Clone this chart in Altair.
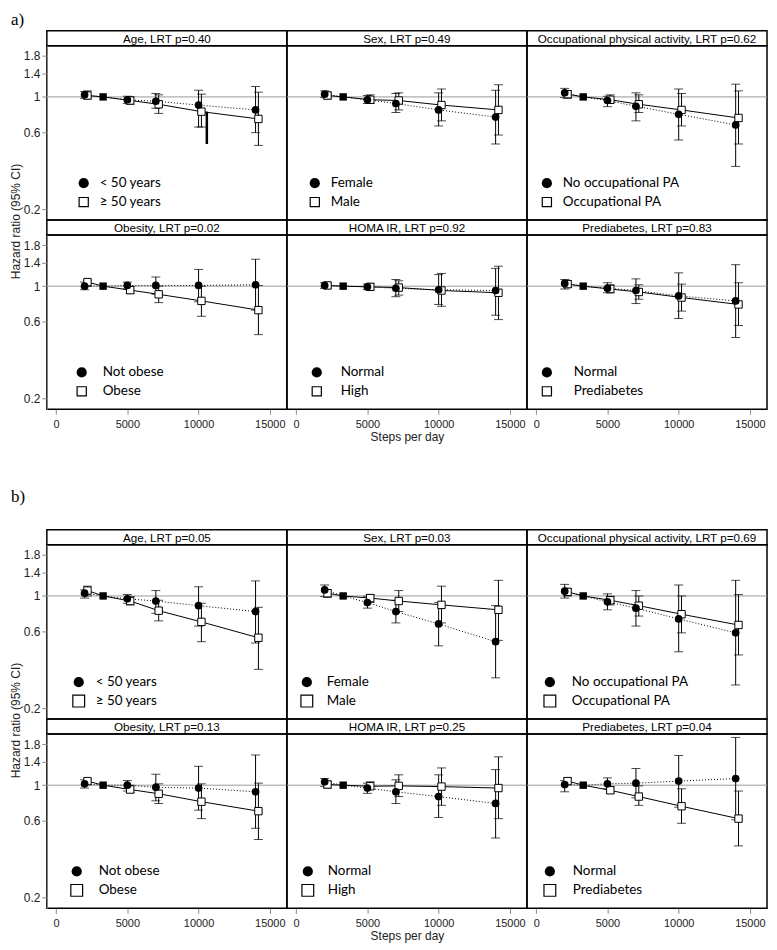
import altair as alt
import pandas as pd

# ---------------- data ----------------
STEPS_G1 = [2000, 5000, 7000, 10000, 14000]   # filled circles (dotted line)
STEPS_G2 = [2200, 5200, 7200, 10200, 14200]   # open squares (solid line)
REF_STEPS = 3300
REF_HR = 1.0
X_TICKS = [0, 5000, 10000, 15000]
Y_TICKS = [0.2, 0.6, 1, 1.4, 1.8]

TITLES_A = ["Age, LRT p=0.40", "Sex, LRT p=0.49", "Occupational physical activity, LRT p=0.62",
            "Obesity, LRT p=0.02", "HOMA IR, LRT p=0.92", "Prediabetes, LRT p=0.83"]
TITLES_B = ["Age, LRT p=0.05", "Sex, LRT p=0.03", "Occupational physical activity, LRT p=0.69",
            "Obesity, LRT p=0.13", "HOMA IR, LRT p=0.25", "Prediabetes, LRT p=0.04"]
LABELS_G1 = ["< 50 years", "Female", "No occupational PA", "Not obese", "Normal", "Normal"]
LABELS_G2 = ["≥ 50 years", "Male", "Occupational PA", "Obese", "High", "Prediabetes"]

# ---- section a ----
A1_HR1 = [1.03, 0.96, 0.94, 0.89, 0.83]
A1_LO1 = [0.98, 0.91, 0.85, 0.65, 0.60]
A1_HI1 = [1.08, 1.01, 1.05, 1.10, 1.16]
A1_HR2 = [1.02, 0.95, 0.90, 0.81, 0.73]
A1_LO2 = [0.97, 0.90, 0.79, 0.65, 0.50]
A1_HI2 = [1.09, 1.00, 1.03, 1.04, 1.07]
A1_EXTRA_STEPS = [10580]
A1_EXTRA_LO = [0.51]
A1_EXTRA_HI = [0.81]

A2_HR1 = [1.04, 0.96, 0.91, 0.83, 0.75]
A2_LO1 = [0.99, 0.91, 0.80, 0.66, 0.51]
A2_HI1 = [1.09, 1.02, 1.05, 1.06, 1.10]
A2_HR2 = [1.02, 0.96, 0.95, 0.89, 0.83]
A2_LO2 = [0.97, 0.91, 0.83, 0.71, 0.58]
A2_HI2 = [1.07, 1.03, 1.06, 1.12, 1.19]

A3_HR1 = [1.06, 0.95, 0.875, 0.78, 0.67]
A3_LO1 = [0.99, 0.87, 0.71, 0.54, 0.37]
A3_HI1 = [1.13, 1.01, 1.06, 1.12, 1.20]
A3_HR2 = [1.04, 0.96, 0.90, 0.83, 0.74]
A3_LO2 = [0.98, 0.92, 0.80, 0.66, 0.51]
A3_HI2 = [1.09, 1.03, 1.03, 1.05, 1.09]

A4_HR1 = [1.00, 1.01, 1.01, 1.01, 1.02]
A4_LO1 = [0.95, 0.96, 0.89, 0.80, 0.71]
A4_HI1 = [1.06, 1.06, 1.14, 1.27, 1.47]
A4_HR2 = [1.06, 0.945, 0.89, 0.81, 0.71]
A4_LO2 = [1.00, 0.90, 0.79, 0.65, 0.50]
A4_HI2 = [1.09, 0.995, 1.00, 1.00, 1.01]

A5_HR1 = [1.01, 0.99, 0.97, 0.95, 0.94]
A5_LO1 = [0.97, 0.95, 0.86, 0.77, 0.66]
A5_HI1 = [1.05, 1.03, 1.10, 1.18, 1.29]
A5_HR2 = [1.01, 0.99, 0.98, 0.94, 0.91]
A5_LO2 = [0.97, 0.95, 0.88, 0.75, 0.62]
A5_HI2 = [1.05, 1.04, 1.08, 1.20, 1.33]

A6_HR1 = [1.04, 0.97, 0.94, 0.87, 0.81]
A6_LO1 = [0.96, 0.91, 0.78, 0.63, 0.48]
A6_HI1 = [1.10, 1.05, 1.11, 1.21, 1.36]
A6_HR2 = [1.03, 0.96, 0.92, 0.85, 0.77]
A6_LO2 = [0.98, 0.91, 0.83, 0.70, 0.57]
A6_HI2 = [1.08, 1.02, 1.02, 1.03, 1.05]

# ---- section b ----
B1_HR1 = [1.04, 0.96, 0.93, 0.87, 0.80]
B1_LO1 = [0.97, 0.90, 0.78, 0.65, 0.51]
B1_HI1 = [1.09, 1.02, 1.08, 1.14, 1.24]
B1_HR2 = [1.08, 0.93, 0.81, 0.69, 0.55]
B1_LO2 = [1.00, 0.88, 0.70, 0.52, 0.35]
B1_HI2 = [1.15, 0.99, 0.94, 0.90, 0.85]

B2_HR1 = [1.09, 0.91, 0.80, 0.67, 0.52]
B2_LO1 = [0.99, 0.84, 0.68, 0.49, 0.31]
B2_HI1 = [1.17, 0.995, 0.94, 0.91, 0.87]
B2_HR2 = [1.04, 0.97, 0.93, 0.88, 0.82]
B2_LO2 = [0.98, 0.91, 0.80, 0.68, 0.53]
B2_HI2 = [1.09, 1.02, 1.08, 1.15, 1.25]

B3_HR1 = [1.07, 0.92, 0.84, 0.72, 0.59]
B3_LO1 = [0.97, 0.82, 0.65, 0.45, 0.28]
B3_HI1 = [1.18, 1.03, 1.08, 1.17, 1.25]
B3_HR2 = [1.06, 0.94, 0.87, 0.77, 0.66]
B3_LO2 = [1.00, 0.88, 0.75, 0.59, 0.43]
B3_HI2 = [1.11, 0.995, 1.00, 1.00, 1.02]

B4_HR1 = [1.02, 1.00, 0.97, 0.96, 0.91]
B4_LO1 = [0.96, 0.92, 0.80, 0.70, 0.54]
B4_HI1 = [1.08, 1.07, 1.17, 1.31, 1.54]
B4_HR2 = [1.06, 0.94, 0.885, 0.79, 0.69]
B4_LO2 = [1.01, 0.90, 0.77, 0.62, 0.46]
B4_HI2 = [1.09, 1.00, 1.02, 1.02, 1.03]

B5_HR1 = [1.05, 0.96, 0.91, 0.85, 0.77]
B5_LO1 = [0.98, 0.89, 0.77, 0.63, 0.47]
B5_HI1 = [1.10, 1.03, 1.08, 1.16, 1.25]
B5_HR2 = [1.01, 0.985, 0.99, 0.98, 0.96]
B5_LO2 = [0.96, 0.94, 0.85, 0.75, 0.62]
B5_HI2 = [1.06, 1.05, 1.16, 1.28, 1.50]

B6_HR1 = [1.01, 1.02, 1.03, 1.06, 1.10]
B6_LO1 = [0.91, 0.95, 0.835, 0.73, 0.61]
B6_HI1 = [1.07, 1.11, 1.27, 1.53, 1.98]
B6_HR2 = [1.06, 0.93, 0.85, 0.74, 0.62]
B6_LO2 = [1.01, 0.89, 0.75, 0.58, 0.42]
B6_HI2 = [1.11, 0.98, 0.99, 0.95, 0.92]

PANELS_A = [
    (A1_HR1, A1_LO1, A1_HI1, A1_HR2, A1_LO2, A1_HI2),
    (A2_HR1, A2_LO1, A2_HI1, A2_HR2, A2_LO2, A2_HI2),
    (A3_HR1, A3_LO1, A3_HI1, A3_HR2, A3_LO2, A3_HI2),
    (A4_HR1, A4_LO1, A4_HI1, A4_HR2, A4_LO2, A4_HI2),
    (A5_HR1, A5_LO1, A5_HI1, A5_HR2, A5_LO2, A5_HI2),
    (A6_HR1, A6_LO1, A6_HI1, A6_HR2, A6_LO2, A6_HI2),
]
PANELS_B = [
    (B1_HR1, B1_LO1, B1_HI1, B1_HR2, B1_LO2, B1_HI2),
    (B2_HR1, B2_LO1, B2_HI1, B2_HR2, B2_LO2, B2_HI2),
    (B3_HR1, B3_LO1, B3_HI1, B3_HR2, B3_LO2, B3_HI2),
    (B4_HR1, B4_LO1, B4_HI1, B4_HR2, B4_LO2, B4_HI2),
    (B5_HR1, B5_LO1, B5_HI1, B5_HR2, B5_LO2, B5_HI2),
    (B6_HR1, B6_LO1, B6_HI1, B6_HR2, B6_LO2, B6_HI2),
]

# ---------------- layout / style ----------------
PW, PH, SH = 241, 175, 15
XSCALE = alt.Scale(domain=[-650, 16200], nice=False, zero=False)
YSCALE = alt.Scale(type="log", domain=[0.172, 2.08], nice=False)
# legend positions inside each panel (symbol x, text x)
LEG_A = [(37, 53), (28, 44), (20, 36), (35, 56), (30, 54), (20, 47)]
LEG_B = [(32, 49), (20, 40), (23, 45), (30, 52), (21, 41), (23, 46)]
LEG_Y1, LEG_Y2 = 138, 157


def make_strip(title, section_label=None, label_y=-13):
    st = alt.Chart(pd.DataFrame({"t": [title]})).mark_text(
        font="Liberation Sans", fontSize=11.7, color="black"
    ).encode(text="t:N", x=alt.value(PW / 2), y=alt.value(8))
    if section_label is None:
        return st.properties(width=PW, height=SH)
    lab = alt.Chart(pd.DataFrame({"s": [section_label]})).mark_text(
        font="Liberation Serif", fontSize=17, color="black", align="left", baseline="middle"
    ).encode(text="s:N", x=alt.value(-36), y=alt.value(label_y))
    return alt.layer(st, lab).properties(width=PW, height=SH)


def make_plot(vals, lab1, lab2, leg, show_x, show_y, x_title, y_title, leg_sq, extra=None):
    hr1, lo1, hi1, hr2, lo2, hi2 = vals
    pts1 = pd.DataFrame({"steps": STEPS_G1, "hr": hr1, "lo": lo1, "hi": hi1})
    pts2 = pd.DataFrame({"steps": STEPS_G2, "hr": hr2, "lo": lo2, "hi": hi2})
    both = pd.concat([pts1, pts2], ignore_index=True)
    line1 = pd.DataFrame({"steps": [STEPS_G1[0], REF_STEPS] + STEPS_G1[1:],
                          "hr": [hr1[0], REF_HR] + hr1[1:], "o": list(range(6))})
    line2 = pd.DataFrame({"steps": [STEPS_G2[0], REF_STEPS] + STEPS_G2[1:],
                          "hr": [hr2[0], REF_HR] + hr2[1:], "o": list(range(6))})
    ref = pd.DataFrame({"steps": [REF_STEPS], "hr": [REF_HR]})

    if show_x:
        xaxis = alt.Axis(values=X_TICKS, format="d", title=x_title if x_title else None,
                         tickSize=5, labelPadding=4, titlePadding=2, domain=False,
                         labelFontSize=11)
    else:
        xaxis = None
    if show_y:
        yaxis = alt.Axis(values=Y_TICKS, format=".2~g", tickSize=5, labelPadding=2,
                         labelFontSize=12, title=y_title if y_title else None,
                         domainColor="#888", titlePadding=1,
                         **({"titleY": PH + 1} if y_title else {}))
    else:
        yaxis = None

    X = alt.X("steps:Q", scale=XSCALE, axis=xaxis)
    Y = alt.Y("hr:Q", scale=YSCALE, axis=yaxis)
    Ylo = alt.Y("lo:Q", scale=YSCALE, axis=yaxis)

    one = alt.Chart(pd.DataFrame({"hr": [1.0]})).mark_rule(color="#9a9a9a", strokeWidth=1).encode(y=Y)
    l1 = alt.Chart(line1).mark_line(color="black", strokeWidth=1, strokeDash=[1, 2]).encode(x=X, y=Y, order="o:Q")
    l2 = alt.Chart(line2).mark_line(color="black", strokeWidth=1).encode(x=X, y=Y, order="o:Q")
    bars = alt.Chart(both).mark_rule(color="black", strokeWidth=1).encode(x=X, y=Ylo, y2="hi:Q")
    cap_lo = alt.Chart(both).mark_tick(color="black", orient="horizontal", size=9, thickness=1).encode(x=X, y=Ylo)
    cap_hi = alt.Chart(both).mark_tick(color="black", orient="horizontal", size=9, thickness=1).encode(
        x=X, y=alt.Y("hi:Q", scale=YSCALE, axis=yaxis))
    sq = alt.Chart(pts2).mark_point(shape="square", filled=True, fill="white", stroke="black",
                                    strokeWidth=1, size=55, opacity=1).encode(x=X, y=Y)
    ci = alt.Chart(pts1).mark_point(shape="circle", filled=True, color="black", size=60, opacity=1).encode(x=X, y=Y)
    rf = alt.Chart(ref).mark_point(shape="square", filled=True, color="black", size=55, opacity=1).encode(x=X, y=Y)

    cx, tx = leg
    legd = pd.DataFrame({"a": [lab1], "b": [lab2]})
    lg1 = alt.Chart(legd).mark_point(shape="circle", filled=True, color="black", size=105, opacity=1).encode(
        x=alt.value(cx), y=alt.value(LEG_Y1))
    lg2 = alt.Chart(legd).mark_point(shape="square", filled=True, fill="white", stroke="black",
                                     strokeWidth=1.2, size=leg_sq, opacity=1).encode(x=alt.value(cx), y=alt.value(LEG_Y2))
    lt1 = alt.Chart(legd).mark_text(align="left", baseline="middle", font="Lato", fontSize=13.5,
                                    color="black").encode(text="a:N", x=alt.value(tx), y=alt.value(LEG_Y1))
    lt2 = alt.Chart(legd).mark_text(align="left", baseline="middle", font="Lato", fontSize=13.5,
                                    color="black").encode(text="b:N", x=alt.value(tx), y=alt.value(LEG_Y2))

    layers = [one, l1, l2, bars, cap_lo, cap_hi]
    if extra is not None:
        ex = pd.DataFrame({"steps": extra[0], "lo": extra[1], "hi": extra[2]})
        layers.append(alt.Chart(ex).mark_rule(color="black", strokeWidth=2.5).encode(x=X, y=Ylo, y2="hi:Q"))
    layers += [sq, ci, rf, lg1, lg2, lt1, lt2]
    return alt.layer(*layers).properties(width=PW, height=PH)


def make_section(panels, titles, legs, label, label_y, leg_sq, extras):
    cells = []
    for r in range(2):
        for c in range(3):
            lab = label if (r == 0 and c == 0) else None
            cells.append(make_strip(titles[r * 3 + c], lab, label_y))
        for c in range(3):
            i = r * 3 + c
            cells.append(make_plot(
                panels[i], LABELS_G1[i], LABELS_G2[i], legs[i],
                show_x=(r == 1), show_y=(c == 0),
                x_title="Steps per day" if (r == 1 and c == 1) else None,
                y_title="Hazard ratio (95% CI)" if (r == 0 and c == 0) else None,
                leg_sq=leg_sq, extra=extras.get(i)))
    return alt.concat(*cells, columns=3, spacing=0, bounds="flush", align="each")


sec_a = make_section(PANELS_A, TITLES_A, LEG_A, "a)", -11, 85,
                     {0: (A1_EXTRA_STEPS, A1_EXTRA_LO, A1_EXTRA_HI)})
sec_b = make_section(PANELS_B, TITLES_B, LEG_B, "b)", -33, 140, {})

chart = alt.vconcat(sec_a, sec_b, spacing=44).properties(padding=0).configure_view(
    stroke="black", strokeWidth=1.5
).configure_axis(
    labelFont="Liberation Sans", labelFontSize=11, labelColor="#222",
    tickColor="#888", domainColor="#888", grid=False,
    titleFont="Liberation Sans", titleFontSize=12, titleFontWeight="normal", titleColor="#222",
)

chart.save("out.html", embed_options={"renderer": "svg", "actions": False})
